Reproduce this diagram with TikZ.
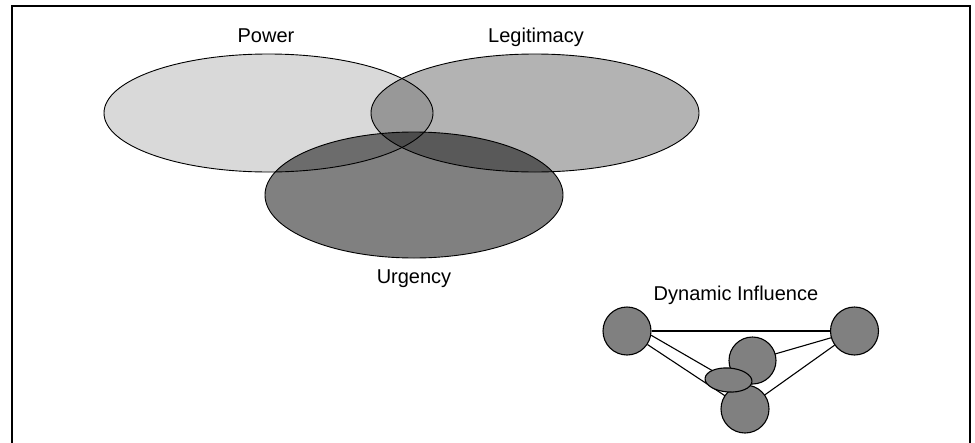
\documentclass[tikz,border=0pt]{standalone}
\usepackage{fontspec}
\setmainfont{Liberation Sans}
\usetikzlibrary{shapes.geometric}
\begin{document}
\begin{tikzpicture}[x=1pt,y=-1pt,
  set/.style={ellipse,draw=black,line width=0.9pt,inner sep=0pt},
  lbl/.style={anchor=base,inner sep=0pt,font=\fontsize{20}{23}\selectfont},
  actor/.style={circle,draw=black,line width=1.1pt,fill=gray50,inner sep=0pt,minimum size=48pt},
  link/.style={draw=black,line width=1.1pt}]
\definecolor{gray50}{HTML}{808080}
\definecolor{powerfill}{HTML}{D9D9D9}
\definecolor{legitfill}{HTML}{B3B3B3}
\definecolor{urgfill}{HTML}{808080}
\useasboundingbox (0,0) rectangle (975,442);
\fill[white] (0,0) rectangle (975,442);

% open frame
\coordinate (fbl) at (11.5,443);
\coordinate (ftl) at (11.5,5.5);
\coordinate (ftr) at (970,5.5);
\coordinate (fbr) at (970,443);
\draw[line width=2pt] (fbl) -- (ftl) -- (ftr) -- (fbr);

% stakeholder attributes, overlaps darkened by multiplying the fills
\begin{scope}[blend group=multiply]
  \node[set,fill=powerfill,minimum width=329pt,minimum height=118pt] (power) at (268.5,113) {};
  \node[set,fill=legitfill,minimum width=328pt,minimum height=118pt] (legit) at (535,113) {};
  \node[set,fill=urgfill,minimum width=298pt,minimum height=126pt] (urg) at (414,195) {};
\end{scope}

\node[lbl] (tpower) at (266,42) {Power};
\node[lbl] (tlegit) at (536,42) {Legitimacy};
\node[lbl] (turg) at (414,283) {Urgency};

% dynamic influence network
\node[lbl] (tdyn) at (736,300.5) {Dynamic Influence};
\coordinate (cl) at (627,331);
\coordinate (cr) at (854.5,331);
\coordinate (cm) at (752.5,360.5);
\coordinate (cb) at (745,409);
\coordinate (ce) at (728.5,380);

\node[actor] (left) at (cl) {};
\node[actor] (right) at (cr) {};
\path[link] (left) -- (right);
\path[link] (left.-10) -- (ce);
\path[link] (left) -- (cb);
\path[link] (right) -- (cm);
\path[link] (right) -- (cb);
\node[actor,minimum size=47pt] (mid) at (cm) {};
\node[actor] (bot) at (cb) {};
\node[actor,ellipse,minimum width=47pt,minimum height=24pt,rotate=-4] (small) at (ce) {};
\end{tikzpicture}
\end{document}
